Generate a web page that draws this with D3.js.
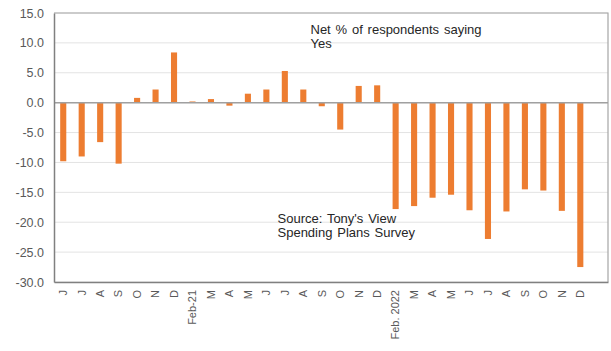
<!DOCTYPE html>
<html>
<head>
<meta charset="utf-8">
<script src="https://cdn.jsdelivr.net/npm/d3@7/dist/d3.min.js"></script>
<style>
  html, body { margin: 0; padding: 0; background: #fff; }
  svg { display: block; font-family: "Liberation Sans", Arial, sans-serif; }
</style>
</head>
<body>
<svg id="chart" width="611" height="351"></svg>
<script>
// Month labels (Jun 2020 .. Dec 2022); the last slot is left open for the next reading
const monthLabels = ["J","J","A","S","O","N","D","Feb-21","M","A","M","J","J","A","S","O","N","D",
                     "Feb. 2022","M","A","M","J","J","A","S","O","N","D",""];
// Net % of respondents saying Yes
const netYes = [-9.8,-9.0,-6.6,-10.2,0.8,2.2,8.4,0.2,0.6,-0.5,1.5,2.2,5.3,2.2,-0.6,-4.5,2.8,2.9,
                -17.8,-17.3,-15.9,-15.4,-18.0,-22.8,-18.2,-14.5,-14.7,-18.1,-27.5,null];
const yTicks = [15,10,5,0,-5,-10,-15,-20,-25,-30];
const titleLines = ["Net % of respondents saying", "Yes"];
const sourceLines = ["Source: Tony's View", "Spending Plans Survey"];

const svg = d3.select("#chart");
const margin = {top: 13, right: 3, bottom: 69, left: 54};
const W = 611 - margin.left - margin.right;
const H = 351 - margin.top - margin.bottom;
const g = svg.append("g").attr("transform", `translate(${margin.left},${margin.top})`);

const gap = 0.67;
const x = d3.scaleBand().domain(d3.range(monthLabels.length)).range([0, W])
  .paddingInner(gap).paddingOuter(gap / 2);
const y = d3.scaleLinear().domain([-30, 15]).range([H, 0]);

// horizontal gridlines
g.append("g").selectAll("line").data(yTicks).join("line")
  .attr("x1", 0).attr("x2", W)
  .attr("y1", d => y(d)).attr("y2", d => y(d))
  .attr("stroke", "#e3e3e3").attr("stroke-width", 1);

// plot frame (top and right)
g.append("path")
  .attr("d", `M0,${y(15)}H${W}V${H}`)
  .attr("fill", "none").attr("stroke", "#a6a6a6").attr("stroke-width", 1.2);

// bars
g.append("g").selectAll("rect")
  .data(netYes.map((v, i) => ({v, i})).filter(d => d.v !== null))
  .join("rect")
  .attr("x", d => x(d.i))
  .attr("width", x.bandwidth())
  .attr("y", d => y(Math.max(0, d.v)))
  .attr("height", d => Math.abs(y(d.v) - y(0)))
  .attr("fill", "#ed7d31");

// zero line
g.append("line")
  .attr("x1", 0).attr("x2", W).attr("y1", y(0)).attr("y2", y(0))
  .attr("stroke", "#a0a0a0").attr("stroke-width", 1.5);

// y axis
const yAxis = g.append("g")
  .call(d3.axisLeft(y).tickValues(yTicks).tickFormat(d => d.toFixed(1)).tickSize(0).tickPadding(10));
yAxis.select(".domain").attr("stroke", "#808080").attr("stroke-width", 1.5);
yAxis.selectAll("text").attr("fill", "#595959").attr("font-size", "12.5px")
  .attr("font-family", "Liberation Sans, Arial, sans-serif");

// x axis with vertical month labels
const xAxis = g.append("g").attr("transform", `translate(0,${H})`)
  .call(d3.axisBottom(x).tickFormat(i => monthLabels[i]).tickSize(0).tickSizeOuter(0));
xAxis.select(".domain").attr("stroke", "#808080").attr("stroke-width", 1.5);
xAxis.selectAll("text")
  .attr("fill", "#595959").attr("font-size", "11px")
  .attr("font-family", "Liberation Sans, Arial, sans-serif")
  .attr("text-anchor", "end")
  .attr("transform", "rotate(-90)")
  .attr("x", -8).attr("y", 0).attr("dy", "0.35em");

// annotations
const note = (lines, px, py) => {
  const t = g.append("text").attr("x", px).attr("y", py)
    .attr("fill", "#262626").attr("font-size", "13px").attr("word-spacing", "1.2px");
  lines.forEach((s, k) => t.append("tspan").attr("x", px).attr("dy", k ? 14 : 0).text(s));
};
note(titleLines, 310.5 - margin.left, 34 - margin.top);
note(sourceLines, 277.5 - margin.left, 222.5 - margin.top);
</script>
</body>
</html>
